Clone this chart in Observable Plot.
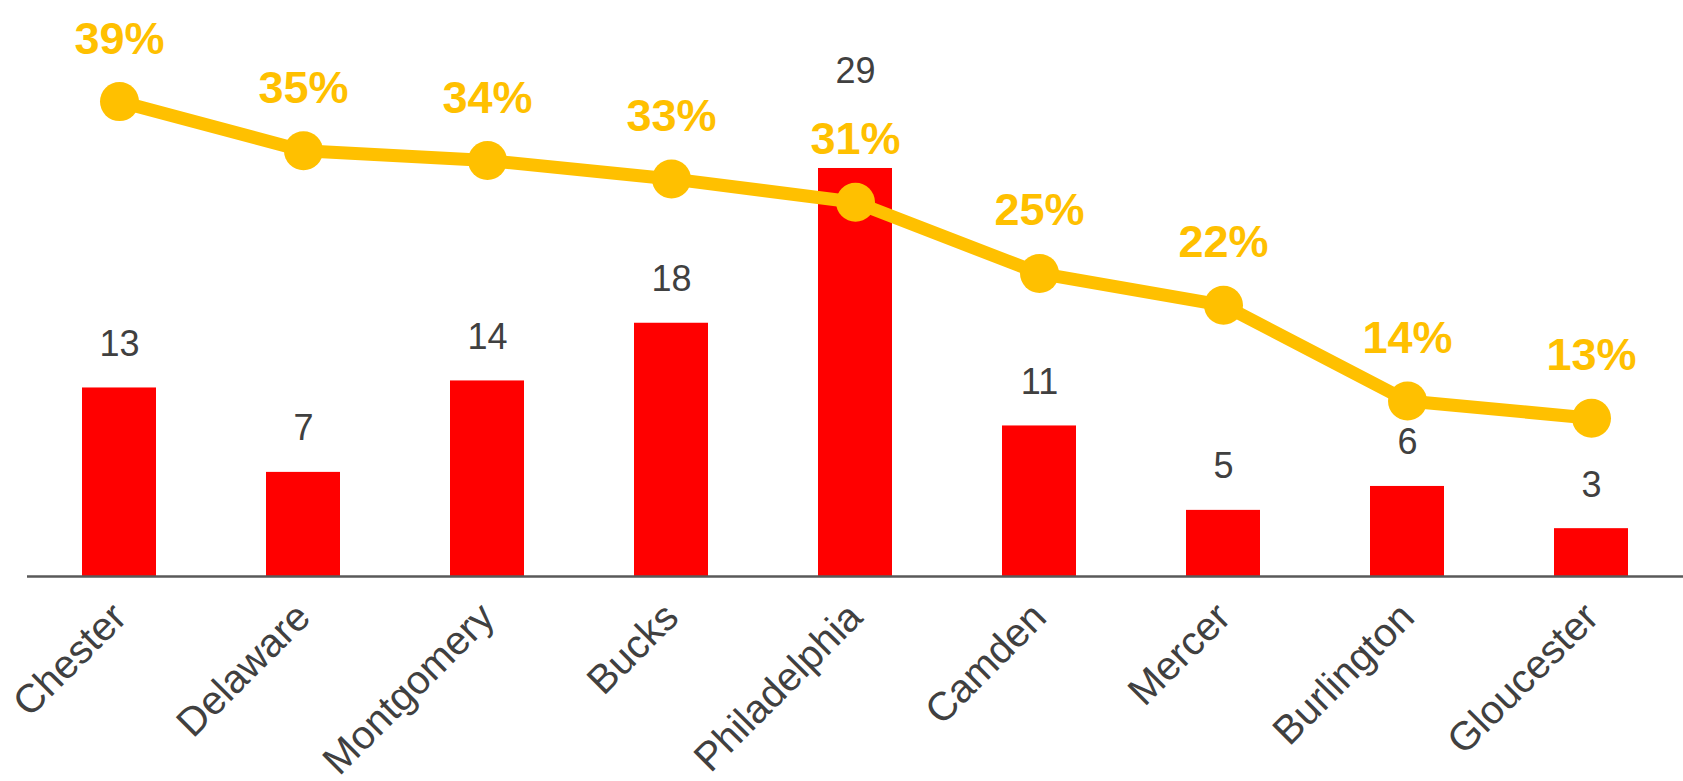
<!DOCTYPE html>
<html>
<head>
<meta charset="utf-8">
<script src="https://cdn.jsdelivr.net/npm/d3@7"></script>
<script src="https://cdn.jsdelivr.net/npm/@observablehq/plot@0.6"></script>
<style>
  html, body { margin: 0; padding: 0; background: #ffffff; }
  #chart { position: relative; width: 1683px; height: 781px; }
  #chart svg { position: absolute; left: 0; top: 0; }
</style>
</head>
<body>
<div id="chart"></div>
<script>
const counties = ["Chester", "Delaware", "Montgomery", "Bucks", "Philadelphia", "Camden", "Mercer", "Burlington", "Gloucester"];
// bar values (labels show the rounded figures)
const counts = [13.4, 7.4, 13.9, 18.0, 29.0, 10.7, 4.7, 6.4, 3.4];
const countLabels = ["13", "7", "14", "18", "29", "11", "5", "6", "3"];
// line values as read from point heights (labels show the rounded figures)
const shares = [38.7, 34.7, 33.9, 32.4, 30.5, 24.7, 22.1, 14.3, 12.9];
const shareLabels = ["39%", "35%", "34%", "33%", "31%", "25%", "22%", "14%", "13%"];
const raisedLabel = "Philadelphia";

const rows = counties.map((c, i) => ({
  county: c, count: counts[i], countLabel: countLabels[i], share: shares[i], shareLabel: shareLabels[i]
}));

const W = 1683, H = 781, MB = 205, ML = 27, MR = 0, MT = 0;
const font = "'Liberation Sans', Arial, sans-serif";
const xOpts = {type: "band", domain: counties, paddingInner: 0.6, paddingOuter: 0.3, axis: null};

const bars = Plot.plot({
  width: W, height: H, marginTop: MT, marginBottom: MB, marginLeft: ML, marginRight: MR,
  x: xOpts,
  y: {domain: [0, 40.94], axis: null},
  style: {fontFamily: font, background: "transparent", overflow: "visible"},
  marks: [
    Plot.barY(rows, {x: "county", y: "count", fill: "#FF0000"}),
    Plot.ruleY([0], {stroke: "#595959", strokeWidth: 2.5}),
    Plot.text(rows.filter(d => d.county !== raisedLabel), {
      x: "county", y: "count", text: "countLabel",
      dy: -32, lineAnchor: "bottom", fontSize: 36, fill: "#404040"
    }),
    Plot.text(rows.filter(d => d.county === raisedLabel), {
      x: "county", y: "count", text: "countLabel",
      dy: -85, lineAnchor: "bottom", fontSize: 36, fill: "#404040"
    }),
    Plot.text(counties, {
      x: d => d, frameAnchor: "bottom", text: d => d,
      dx: 0, dy: 34, rotate: -45, textAnchor: "end", lineAnchor: "middle",
      fontSize: 40, fill: "#404040"
    })
  ]
});

const line = Plot.plot({
  width: W, height: H, marginTop: MT, marginBottom: MB, marginLeft: ML, marginRight: MR,
  x: xOpts,
  y: {domain: [0, 46.94], axis: null},
  style: {fontFamily: font, background: "transparent", overflow: "visible"},
  marks: [
    Plot.line(rows, {x: "county", y: "share", stroke: "#FFC000", strokeWidth: 13}),
    Plot.dot(rows, {x: "county", y: "share", r: 19.5, fill: "#FFC000"}),
    Plot.text(rows, {
      x: "county", y: "share", text: "shareLabel",
      dy: -48, lineAnchor: "bottom", fontSize: 45, fontWeight: "bold", fill: "#FFC000"
    })
  ]
});

const chart = document.getElementById("chart");
chart.appendChild(bars);
chart.appendChild(line);
</script>
</body>
</html>
